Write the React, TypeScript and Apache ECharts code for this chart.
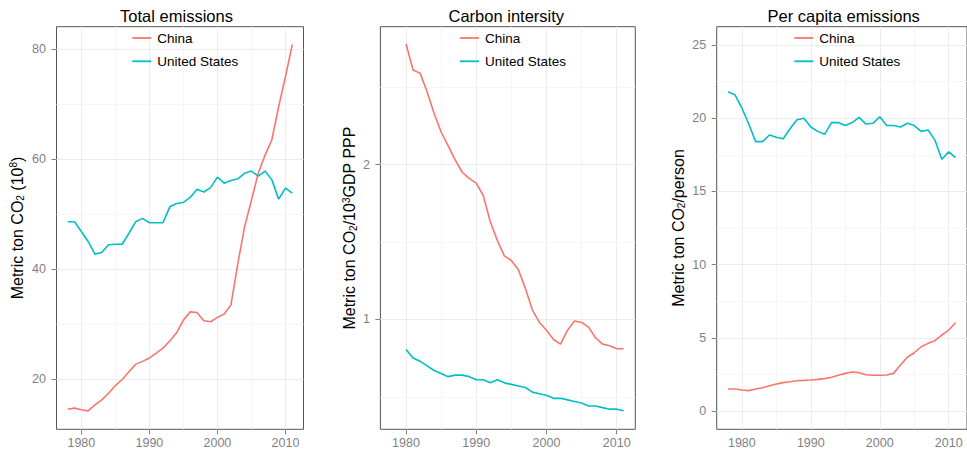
import React, { useEffect, useRef } from "react";
import * as echarts from "echarts";

const yearsLong = [1978, 1979, 1980, 1981, 1982, 1983, 1984, 1985, 1986, 1987, 1988, 1989, 1990, 1991, 1992, 1993, 1994, 1995, 1996, 1997, 1998, 1999, 2000, 2001, 2002, 2003, 2004, 2005, 2006, 2007, 2008, 2009, 2010, 2011];
const yearsShort = [1980, 1981, 1982, 1983, 1984, 1985, 1986, 1987, 1988, 1989, 1990, 1991, 1992, 1993, 1994, 1995, 1996, 1997, 1998, 1999, 2000, 2001, 2002, 2003, 2004, 2005, 2006, 2007, 2008, 2009, 2010, 2011];

const totalChina = [14.5, 14.7, 14.4, 14.2, 15.3, 16.2, 17.4, 18.8, 19.9, 21.3, 22.7, 23.2, 23.8, 24.7, 25.6, 26.9, 28.4, 30.7, 32.2, 32.1, 30.6, 30.4, 31.2, 31.8, 33.5, 41.0, 47.7, 52.5, 57.4, 60.7, 63.5, 69.5, 75.0, 80.8];
const totalUS = [48.6, 48.6, 46.8, 45.0, 42.7, 43.0, 44.4, 44.5, 44.5, 46.5, 48.6, 49.2, 48.4, 48.4, 48.4, 51.3, 51.9, 52.1, 53.0, 54.5, 54.0, 54.8, 56.7, 55.6, 56.1, 56.4, 57.4, 57.8, 56.9, 57.8, 56.2, 52.7, 54.7, 53.8];

const intensityChina = [2.78, 2.61, 2.59, 2.47, 2.33, 2.21, 2.12, 2.03, 1.95, 1.91, 1.88, 1.8, 1.63, 1.51, 1.41, 1.38, 1.32, 1.2, 1.06, 0.98, 0.93, 0.87, 0.84, 0.93, 0.99, 0.98, 0.95, 0.88, 0.84, 0.83, 0.81, 0.81];
const intensityUS = [0.806, 0.75, 0.73, 0.7, 0.67, 0.65, 0.63, 0.64, 0.64, 0.63, 0.61, 0.61, 0.59, 0.61, 0.59, 0.58, 0.57, 0.56, 0.53, 0.52, 0.51, 0.49, 0.49, 0.48, 0.47, 0.46, 0.44, 0.44, 0.43, 0.42, 0.42, 0.41];

const perCapitaChina = [1.5, 1.5, 1.43, 1.39, 1.5, 1.59, 1.73, 1.84, 1.94, 2.0, 2.07, 2.09, 2.12, 2.16, 2.21, 2.3, 2.44, 2.57, 2.66, 2.62, 2.48, 2.44, 2.44, 2.46, 2.57, 3.14, 3.67, 3.98, 4.39, 4.62, 4.8, 5.19, 5.53, 6.03];
const perCapitaUS = [21.8, 21.6, 20.7, 19.6, 18.4, 18.4, 18.85, 18.7, 18.6, 19.3, 19.9, 20.0, 19.4, 19.1, 18.9, 19.7, 19.7, 19.5, 19.7, 20.06, 19.6, 19.65, 20.1, 19.5, 19.5, 19.4, 19.65, 19.5, 19.1, 19.2, 18.5, 17.2, 17.7, 17.3];

const xTicks = [1980, 1990, 2000, 2010];
const xMinor = [1985, 1995, 2005];
const totalTicks = [20, 40, 60, 80];
const totalMinor = [30, 50, 70];
const intensityTicks = [1, 2];
const intensityMinor = [0.5, 1.5, 2.5];
const perCapitaTicks = [0, 5, 10, 15, 20, 25];
const perCapitaMinor = [2.5, 7.5, 12.5, 17.5, 22.5];

const panelTitles = ["Total emissions", "Carbon intersity", "Per capita emissions"];
const seriesNames = ["China", "United States"];

const CHINA = "#F8766D";
const US = "#00BFC4";
const FONT = "'Liberation Sans', Arial, sans-serif";
const TICK_COLOR = "#7f7f7f";
const MAJOR_GRID = "#ececec";
const MINOR_GRID = "#f6f6f6";

const pairs = (xs: number[], ys: number[]) => xs.map((x, i) => [x, ys[i]]);

export default function App() {
  const ref = useRef<HTMLDivElement>(null);

  useEffect(() => {
    if (!ref.current) return;
    const chart = echarts.init(ref.current, null, { renderer: "svg" });

    const grids = [
      { left: 56.5, width: 247 },
      { left: 380.4, width: 254.9 },
      { left: 716.7, width: 250.6 },
    ].map((g) => ({
      left: g.left,
      width: g.width,
      top: 26.7,
      height: 402.6,
      show: true,
      borderColor: "#555555",
      borderWidth: 1,
      backgroundColor: "transparent",
    }));

    const yCfg = [
      { min: 10.85, max: 84.05, ticks: totalTicks, minor: totalMinor, gap: 31, name: "Metric ton CO{sub|2} (10{sup|8})" },
      { min: 0.29, max: 2.89, ticks: intensityTicks, minor: intensityMinor, gap: 22, name: "Metric ton CO{sub|2}/10{sup|3}GDP PPP" },
      { min: -1.25, max: 26.25, ticks: perCapitaTicks, minor: perCapitaMinor, gap: 30, name: "Metric ton CO{sub|2}/person" },
    ];

    const xAxis = [0, 1, 2].map((i) => ({
      type: "value",
      gridIndex: i,
      min: 1976.35,
      max: 2012.65,
      axisLine: { show: false },
      axisTick: { show: true, length: 5, customValues: xTicks, lineStyle: { color: TICK_COLOR, width: 1 } },
      axisLabel: {
        customValues: xTicks,
        formatter: (v: number) => String(v),
        color: TICK_COLOR,
        fontSize: 12.5,
        fontFamily: FONT,
        margin: 7,
      },
      splitLine: { show: false },
    }));

    const yAxis = yCfg.map((c, i) => ({
      type: "value",
      gridIndex: i,
      min: c.min,
      max: c.max,
      name: c.name,
      nameLocation: "middle",
      nameGap: c.gap,
      nameTextStyle: {
        fontSize: 16,
        fontFamily: FONT,
        color: "#000",
        rich: {
          sub: { fontSize: 10, fontFamily: FONT, color: "#000", verticalAlign: "bottom", padding: [6, 0, 0, 0] },
          sup: { fontSize: 10, fontFamily: FONT, color: "#000", verticalAlign: "top", padding: [0, 0, 7, 0] },
        },
      },
      axisLine: { show: false },
      axisTick: { show: true, length: 5, customValues: c.ticks, lineStyle: { color: TICK_COLOR, width: 1 } },
      axisLabel: {
        customValues: c.ticks,
        formatter: (v: number) => String(v),
        color: TICK_COLOR,
        fontSize: 12.5,
        fontFamily: FONT,
        margin: 10.5,
      },
      splitLine: { show: false },
    }));

    const gridLines = (c: typeof yCfg[number]) => ({
      silent: true,
      z: 1,
      symbol: ["none", "none"],
      label: { show: false },
      emphasis: { disabled: true },
      animation: false,
      data: [
        ...xTicks.map((v) => ({ xAxis: v, lineStyle: { color: MAJOR_GRID, width: 1, type: "solid" } })),
        ...xMinor.map((v) => ({ xAxis: v, lineStyle: { color: MINOR_GRID, width: 1, type: "solid" } })),
        ...c.ticks.map((v) => ({ yAxis: v, lineStyle: { color: MAJOR_GRID, width: 1, type: "solid" } })),
        ...c.minor.map((v) => ({ yAxis: v, lineStyle: { color: MINOR_GRID, width: 1, type: "solid" } })),
      ],
    });

    const panelData = [
      [pairs(yearsLong, totalChina), pairs(yearsLong, totalUS)],
      [pairs(yearsShort, intensityChina), pairs(yearsShort, intensityUS)],
      [pairs(yearsLong, perCapitaChina), pairs(yearsLong, perCapitaUS)],
    ];

    const series: any[] = [];
    panelData.forEach((pd, i) => {
      pd.forEach((d, j) => {
        const color = j === 0 ? CHINA : US;
        series.push({
          type: "line",
          name: seriesNames[j],
          xAxisIndex: i,
          yAxisIndex: i,
          data: d,
          symbol: "none",
          showSymbol: false,
          z: 3,
          color,
          lineStyle: { color, width: 1.6 },
          itemStyle: { color },
          emphasis: { disabled: true },
          markLine: j === 0 ? gridLines(yCfg[i]) : undefined,
        });
      });
    });

    const legendLefts = [127.3, 455, 789.3];
    const legend = legendLefts.map((l) => ({
      data: seriesNames.map((n) => ({ name: n, icon: "rect" })),
      left: l,
      top: 26,
      orient: "vertical",
      itemWidth: 19,
      itemHeight: 1.8,
      itemGap: 9.3,
      selectedMode: false,
      textStyle: { fontSize: 13.5, lineHeight: 14, fontFamily: FONT, color: "#000", padding: [0, 0, 0, 1] },
    }));

    const titleX = [176.5, 506.3, 843.7];
    const graphic = panelTitles.map((t, i) => ({
      type: "text",
      x: titleX[i],
      y: 16,
      style: {
        text: t,
        textAlign: "center",
        textVerticalAlign: "middle",
        fontSize: 16.5,
        fontFamily: FONT,
        fill: "#000",
      },
    }));

    chart.setOption({
      animation: false,
      backgroundColor: "#ffffff",
      grid: grids,
      xAxis,
      yAxis,
      legend,
      graphic,
      series,
    } as any);

    return () => chart.dispose();
  }, []);

  return (
    <div
      ref={ref}
      style={{ position: "fixed", left: 0, top: 0, width: 967, height: 453 }}
    />
  );
}
